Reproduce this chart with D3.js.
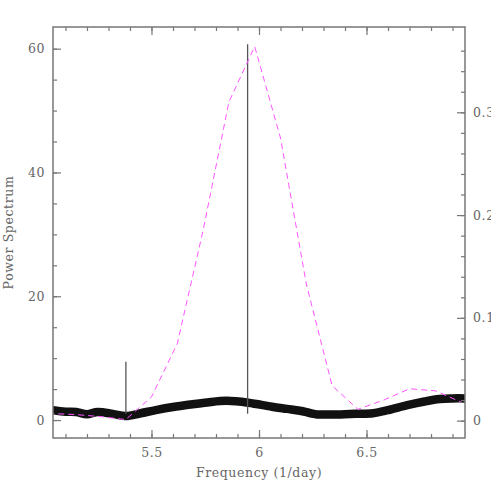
<!DOCTYPE html>
<html>
<head>
    <meta charset="utf-8">
    <title>Power Spectrum</title>
    <script src="https://d3js.org/d3.v7.min.js"></script>
    <style>
        body { margin: 0; background: #fff; }
        text { font-family: "DejaVu Serif", serif; fill: #666; letter-spacing: 0.6px; }
    </style>
</head>
<body>
<div id="chart"></div>
<script>
    // power spectrum band (left axis)
    var bandFreq  = [5.04, 5.10, 5.15, 5.20, 5.25, 5.32, 5.38, 5.45, 5.52, 5.60, 5.68, 5.76, 5.85, 5.95, 6.06, 6.13, 6.19, 6.24, 6.27, 6.32, 6.38, 6.45, 6.53, 6.60, 6.69, 6.77, 6.84, 6.90, 6.96];
    var bandPower = [1.6, 1.35, 1.3, 0.95, 1.3, 1.0, 0.65, 1.1, 1.6, 2.1, 2.5, 2.85, 3.1, 2.8, 2.15, 1.8, 1.5, 1.1, 0.9, 0.9, 0.9, 1.0, 1.1, 1.6, 2.4, 3.0, 3.4, 3.5, 3.5];

    // narrow peaks
    var spikeFreq  = [5.381, 5.947];
    var spikePower = [9.4, 60.7];

    // dashed curve (right axis)
    var windowFreq  = [5.02, 5.14, 5.26, 5.38, 5.50, 5.62, 5.74, 5.86, 5.98, 6.10, 6.22, 6.34, 6.46, 6.58, 6.70, 6.82, 6.94];
    var windowPower = [0.007, 0.006, 0.004, 0.001, 0.023, 0.075, 0.185, 0.310, 0.364, 0.275, 0.133, 0.034, 0.011, 0.020, 0.031, 0.029, 0.018];

    // ticks
    var xMajor = [5.5, 6, 6.5];
    var xMinor = d3.range(51, 70).map(function(d) { return d / 10; });
    var yMajor = [0, 20, 40, 60];
    var yMinor = d3.range(0, 65, 5);
    var y2Major = [0, 0.1, 0.2, 0.3];
    var y2Minor = d3.range(0, 19).map(function(d) { return d * 0.02; });

    var margin = {top: 27, right: 26, bottom: 53, left: 53},
        width = 491 - margin.left - margin.right,
        height = 491 - margin.top - margin.bottom;

    var svg = d3.select("#chart")
      .append("svg")
        .attr("width", 491)
        .attr("height", 491)
      .append("g")
        .attr("transform", "translate(" + margin.left + "," + margin.top + ")");

    var x = d3.scaleLinear().domain([5.042, 6.958]).range([0, width]);
    var y = d3.scaleLinear().domain([-2.9, 63.5]).range([height, 0]);
    var y2 = d3.scaleLinear().domain([-0.0169, 0.383]).range([height, 0]);

    svg.append("clipPath").attr("id", "clip")
      .append("rect").attr("width", width).attr("height", height);

    var plot = svg.append("g").attr("clip-path", "url(#clip)");

    // thick band
    var band = bandFreq.map(function(f, i) { return [f, bandPower[i]]; });
    plot.append("path")
        .datum(band)
        .attr("fill", "none")
        .attr("stroke", "#111")
        .attr("stroke-width", 8.5)
        .attr("stroke-linecap", "round")
        .attr("d", d3.line()
            .curve(d3.curveCatmullRom)
            .x(function(d) { return x(d[0]); })
            .y(function(d) { return y(d[1]); }));

    // spikes
    plot.selectAll(".spike")
        .data(spikeFreq)
        .enter().append("line")
        .attr("class", "spike")
        .attr("x1", function(d) { return x(d); })
        .attr("x2", function(d) { return x(d); })
        .attr("y1", y(1))
        .attr("y2", function(d, i) { return y(spikePower[i]); })
        .attr("stroke", "#555")
        .attr("stroke-width", 1.3);

    // dashed window curve
    var win = windowFreq.map(function(f, i) { return [f, windowPower[i]]; });
    plot.append("path")
        .datum(win)
        .attr("fill", "none")
        .attr("stroke", "#ff55ff")
        .attr("stroke-width", 1)
        .attr("stroke-dasharray", "6,4")
        .attr("d", d3.line()
            .x(function(d) { return x(d[0]); })
            .y(function(d) { return y2(d[1]); }));

    // axes (ticks point inward)
    function styleAxis(g) {
        g.select(".domain").remove();
        g.selectAll("line").attr("stroke", "#777").attr("stroke-width", 1.2);
        g.selectAll("text").style("font-size", "12.5px").attr("fill", "#666");
    }

    svg.append("g").attr("transform", "translate(0," + height + ")")
        .call(d3.axisBottom(x).tickValues(xMinor).tickSize(-4).tickFormat(""))
        .call(styleAxis);
    svg.append("g").attr("transform", "translate(0," + height + ")")
        .call(d3.axisBottom(x).tickValues(xMajor).tickSize(-8).tickPadding(10).tickFormat(d3.format("")))
        .call(styleAxis);
    svg.append("g")
        .call(d3.axisTop(x).tickValues(xMinor).tickSize(-4).tickFormat(""))
        .call(styleAxis);
    svg.append("g")
        .call(d3.axisTop(x).tickValues(xMajor).tickSize(-8).tickFormat(""))
        .call(styleAxis);

    svg.append("g")
        .call(d3.axisLeft(y).tickValues(yMinor).tickSize(-4).tickFormat(""))
        .call(styleAxis);
    svg.append("g")
        .call(d3.axisLeft(y).tickValues(yMajor).tickSize(-8).tickPadding(8).tickFormat(d3.format("")))
        .call(styleAxis);

    svg.append("g").attr("transform", "translate(" + width + ",0)")
        .call(d3.axisRight(y2).tickValues(y2Minor).tickSize(-4).tickFormat(""))
        .call(styleAxis);
    svg.append("g").attr("transform", "translate(" + width + ",0)")
        .call(d3.axisRight(y2).tickValues(y2Major).tickSize(-8).tickPadding(8).tickFormat(d3.format("")))
        .call(styleAxis);

    // frame
    svg.append("rect")
        .attr("width", width)
        .attr("height", height)
        .attr("fill", "none")
        .attr("stroke", "#777")
        .attr("stroke-width", 1.5);

    // axis labels
    svg.append("text")
        .attr("x", width / 2)
        .attr("y", height + 39)
        .style("text-anchor", "middle")
        .style("font-size", "12.5px")
        .text("Frequency (1/day)");

    svg.append("text")
        .attr("transform", "rotate(-90)")
        .attr("x", -height / 2)
        .attr("y", -40)
        .style("text-anchor", "middle")
        .style("font-size", "12.5px")
        .text("Power Spectrum");
</script>
</body>
</html>
